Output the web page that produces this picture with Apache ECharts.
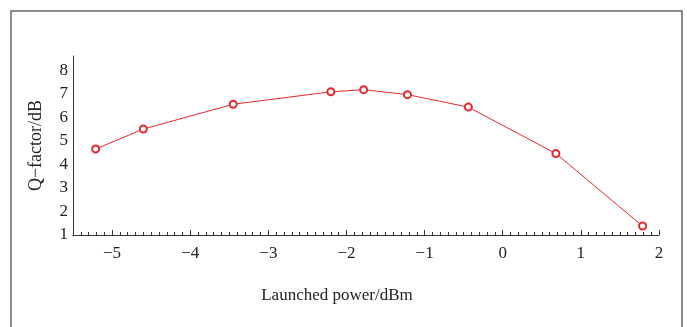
<!DOCTYPE html>
<html>
<head>
<meta charset="utf-8">
<script src="https://cdn.jsdelivr.net/npm/echarts@6/dist/echarts.min.js"></script>
<style>
  html, body { margin: 0; padding: 0; background: #fff; }
  #chart { width: 687px; height: 327px; }
</style>
</head>
<body>
<div id="chart"></div>
<script>
// launched power (dBm) vs Q-factor (dB)
const powerDbm = [-5.21, -4.60, -3.45, -2.20, -1.78, -1.22, -0.44, 0.68, 1.79]
const qFactorDb = [4.65, 5.50, 6.55, 7.08, 7.17, 6.96, 6.43, 4.46, 1.38]

const xMin = -5.5
const xMax = 2
const yMin = 1
const yMax = 8.6

const serif = '"Liberation Serif", "DejaVu Serif", serif'
const minus = (v) => String(v).replace('-', '\u2212')

const chart = echarts.init(document.getElementById('chart'))

const option = {
  animation: false,
  grid: {
    left: 73,
    right: 28,
    top: 56,
    bottom: 92
  },
  graphic: [
    {
      type: 'rect',
      shape: { x: 11, y: 11, width: 671, height: 340 },
      style: { fill: 'none', stroke: '#666', lineWidth: 1.5 },
      silent: true
    }
  ],
  xAxis: {
    type: 'value',
    min: xMin,
    max: xMax,
    splitNumber: 8,
    name: 'Launched power/dBm',
    nameLocation: 'middle',
    nameGap: 52,
    nameTextStyle: {
      fontFamily: serif,
      fontSize: 17,
      color: '#222',
      padding: [0, 58, 0, 0]
    },
    axisLine: { onZero: false, lineStyle: { color: '#333', width: 1 } },
    axisTick: { inside: true, length: 5, lineStyle: { color: '#333' } },
    minorTick: { show: true, splitNumber: 10, length: 3, lineStyle: { color: '#333' } },
    splitLine: { show: false },
    axisLabel: {
      showMinLabel: false,
      margin: 10,
      fontFamily: serif,
      fontSize: 17,
      color: '#222',
      formatter: minus
    }
  },
  yAxis: {
    type: 'value',
    min: yMin,
    max: yMax,
    interval: 1,
    name: 'Q\u2212factor/dB',
    nameLocation: 'middle',
    nameGap: 28,
    nameTextStyle: {
      fontFamily: serif,
      fontSize: 18,
      color: '#222'
    },
    axisLine: { show: true, onZero: false, lineStyle: { color: '#333', width: 1 } },
    axisTick: { show: false },
    splitLine: { show: false },
    axisLabel: {
      showMaxLabel: false,
      margin: 5,
      fontFamily: serif,
      fontSize: 17,
      color: '#222'
    }
  },
  series: [
    {
      type: 'line',
      data: powerDbm.map((x, i) => [x, qFactorDb[i]]),
      symbol: 'emptyCircle',
      symbolSize: 7,
      lineStyle: { color: '#e8262e', width: 1 },
      itemStyle: { color: '#e8262e', borderWidth: 1 }
    }
  ]
}

chart.setOption(option)
</script>
</body>
</html>
